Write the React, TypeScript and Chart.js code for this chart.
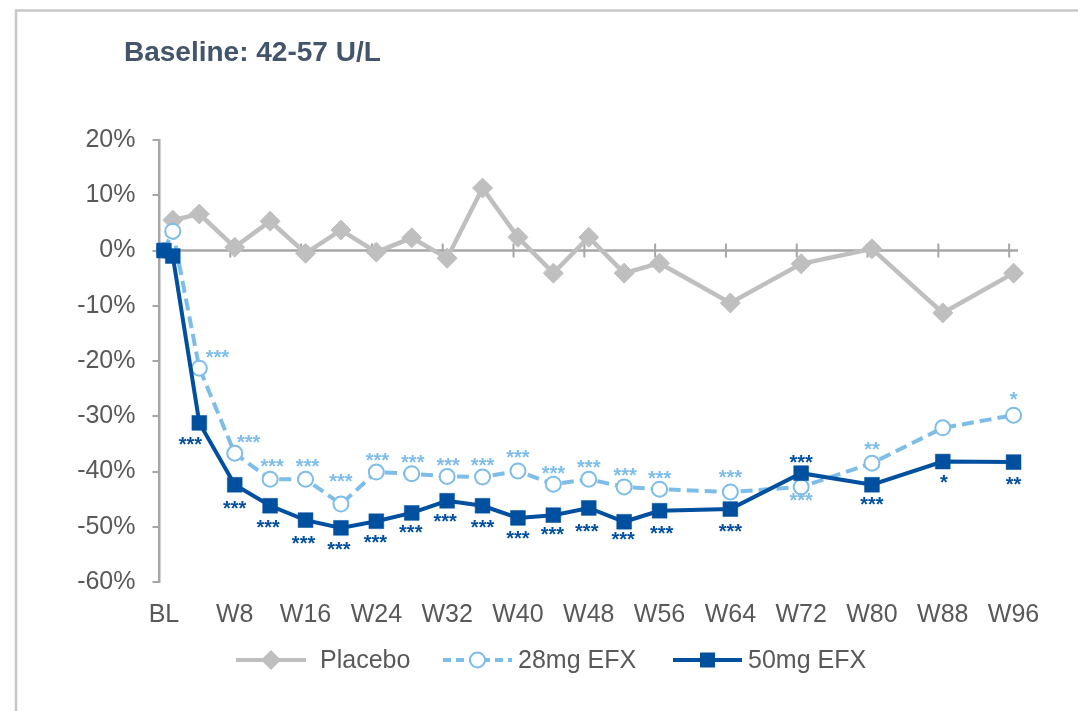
import React, { useEffect, useRef } from 'react';
import { Chart, registerables } from 'chart.js';

Chart.register(...registerables);

// ---------- data ----------
const weeks = [0, 1, 4, 8, 12, 16, 20, 24, 28, 32, 36, 40, 44, 48, 52, 56, 64, 72, 80, 88, 96];
const tickWeeks = [0, 8, 16, 24, 32, 40, 48, 56, 64, 72, 80, 88, 96];
const tickLabels = ['BL', 'W8', 'W16', 'W24', 'W32', 'W40', 'W48', 'W56', 'W64', 'W72', 'W80', 'W88', 'W96'];

const placeboValues = [null, 5.5, 6.6, 0.6, 5.3, -0.5, 3.7, -0.3, 2.3, -1.4, 11.3, 2.4, -4.1, 2.4, -4.1, -2.3, -9.5, -2.4, 0.3, -11.3, -4.1];
const efx28Values = [0, 3.5, -21.3, -36.7, -41.4, -41.4, -45.9, -40.1, -40.4, -40.9, -41.0, -39.9, -42.3, -41.4, -42.8, -43.2, -43.7, -42.8, -38.5, -32.1, -29.8];
const efx50Values = [0, -1.0, -31.2, -42.4, -46.2, -48.8, -50.2, -49.0, -47.5, -45.3, -46.2, -48.4, -47.9, -46.6, -49.1, -47.1, -46.8, -40.3, -42.4, -38.2, -38.3];

const sig28 = ['', '', '***', '***', '***', '***', '***', '***', '***', '***', '***', '***', '***', '***', '***', '***', '***', '***', '**', '', '*'];
const sig50 = ['', '', '***', '***', '***', '***', '***', '***', '***', '***', '***', '***', '***', '***', '***', '***', '***', '***', '***', '*', '**'];
// annotation placement relative to the marker (label centre offset)
const sig28Dx = [0, 0, 18, 14, 2, 2, 0, 1, 1, 1, 0, 0, 0, 0, 1, 0, 0, 0, 0, 0, 0];
const sig28Dy = [0, 0, -16, -16, -18, -18, -28, -17, -17, -16, -17, -19, -16, -17, -17, -16, -20, 8, -19, 0, -21];
const sig50Dx = [0, 0, -9, 0, -2, -2, -2, -1, -1, -2, 0, 0, -1, -2, -1, 2, 0, 0, 0, 1, 0];
const sig50Dy = [0, 0, 16, 18, 16, 18, 16, 16, 14, 15, 16, 15, 14, 18, 12, 17, 17, -16, 14, 15, 17];

const seriesNames = ['Placebo', '28mg EFX', '50mg EFX'];
const titleText = 'Baseline: 42-57 U/L';

// ---------- styles ----------
const FONT = '"Liberation Sans", Arial, sans-serif';
const GRAY = '#bfbfbf';
const LIGHT = '#7fbde9';
const DARK = '#00509f';
const AXIS = '#a6a6a6';
const TEXT = '#595959';
const DASH = [12, 6];

function marker(ctx: CanvasRenderingContext2D, kind: string, x: number, y: number) {
  ctx.save();
  ctx.beginPath();
  if (kind === 'diamond') {
    const r = 10;
    ctx.moveTo(x - r, y); ctx.lineTo(x, y - r); ctx.lineTo(x + r, y); ctx.lineTo(x, y + r); ctx.closePath();
    ctx.fillStyle = GRAY; ctx.fill();
  } else if (kind === 'circle') {
    ctx.arc(x, y, 7.5, 0, Math.PI * 2);
    ctx.fillStyle = '#ffffff'; ctx.fill();
    ctx.lineWidth = 2; ctx.strokeStyle = LIGHT; ctx.stroke();
  } else {
    const s = 7.5;
    ctx.rect(x - s, y - s, 2 * s, 2 * s);
    ctx.fillStyle = DARK; ctx.fill();
  }
  ctx.restore();
}

const overlayPlugin = {
  id: 'overlay',
  beforeDatasetsDraw(chart: any) {
    const { ctx, chartArea } = chart;
    const x = chart.scales.x;
    const y = chart.scales.y;
    const y0 = y.getPixelForValue(0);
    ctx.save();
    ctx.strokeStyle = AXIS;
    ctx.lineWidth = 2.5;
    ctx.beginPath();
    ctx.moveTo(chartArea.left, y0);
    ctx.lineTo(chartArea.right, y0);
    ctx.stroke();
    ctx.lineWidth = 2;
    tickWeeks.forEach((w) => {
      if (w === 0) return;
      const px = x.getPixelForValue(w - 0.5);
      ctx.beginPath();
      ctx.moveTo(px, y0 - 7);
      ctx.lineTo(px, y0 + 7);
      ctx.stroke();
    });
    ctx.restore();
  },
  afterDatasetsDraw(chart: any) {
    const { ctx } = chart;
    const m28 = chart.getDatasetMeta(1);
    const m50 = chart.getDatasetMeta(2);
    ctx.save();
    ctx.font = 'bold 20px ' + FONT;
    ctx.textAlign = 'center';
    ctx.textBaseline = 'alphabetic';
    sig28.forEach((s, i) => {
      if (!s) return;
      const p = m28.data[i];
      ctx.fillStyle = LIGHT;
      ctx.fillText(s, p.x + sig28Dx[i], p.y + sig28Dy[i] + 12);
    });
    sig50.forEach((s, i) => {
      if (!s) return;
      const p = m50.data[i];
      ctx.fillStyle = DARK;
      ctx.fillText(s, p.x + sig50Dx[i], p.y + sig50Dy[i] + 12);
    });
    ctx.restore();
  },
  afterDraw(chart: any) {
    const { ctx } = chart;
    ctx.save();
    // frame
    ctx.strokeStyle = '#c8c8c8';
    ctx.lineWidth = 2.5;
    ctx.beginPath();
    ctx.moveTo(16, 711);
    ctx.lineTo(16, 10.5);
    ctx.lineTo(1078, 10.5);
    ctx.stroke();
    // title
    ctx.fillStyle = '#44546a';
    ctx.font = 'bold 28px ' + FONT;
    ctx.textAlign = 'left';
    ctx.textBaseline = 'alphabetic';
    ctx.fillText(titleText, 124, 61);
    // legend
    const ly = 660;
    const items = [
      { x0: 236, x1: 306, kind: 'diamond', color: GRAY, dash: [] as number[], tx: 320 },
      { x0: 443, x1: 512, kind: 'circle', color: LIGHT, dash: [8, 5], tx: 518 },
      { x0: 673, x1: 742, kind: 'square', color: DARK, dash: [] as number[], tx: 748 },
    ];
    items.forEach((it, i) => {
      ctx.save();
      ctx.strokeStyle = it.color;
      ctx.lineWidth = 4;
      ctx.setLineDash(it.dash);
      ctx.beginPath();
      ctx.moveTo(it.x0, ly);
      ctx.lineTo(it.x1, ly);
      ctx.stroke();
      ctx.restore();
      marker(ctx, it.kind, (it.x0 + it.x1) / 2, ly);
      ctx.fillStyle = TEXT;
      ctx.font = '25px ' + FONT;
      ctx.textBaseline = 'middle';
      ctx.fillText(seriesNames[i], it.tx, ly + 1);
    });
    ctx.restore();
  },
};

export default function App() {
  const canvasRef = useRef<HTMLCanvasElement | null>(null);

  useEffect(() => {
    if (!canvasRef.current) return;
    const toPoints = (vals: (number | null)[]) => weeks.map((w, i) => ({ x: w, y: vals[i] }));
    const chart = new Chart(canvasRef.current, {
      type: 'line',
      data: {
        datasets: [
          {
            label: seriesNames[0],
            data: toPoints(placeboValues) as any,
            borderColor: GRAY,
            backgroundColor: GRAY,
            borderWidth: 4.5,
            pointStyle: 'rectRot',
            pointRadius: 10,
            pointBorderWidth: 1,
            pointBackgroundColor: GRAY,
            pointBorderColor: GRAY,
            order: 3,
            clip: false as any,
          },
          {
            label: seriesNames[1],
            data: toPoints(efx28Values) as any,
            borderColor: LIGHT,
            backgroundColor: '#ffffff',
            borderWidth: 4,
            borderDash: DASH,
            pointStyle: 'circle',
            pointRadius: 7.5,
            pointBorderWidth: 2,
            pointBackgroundColor: '#ffffff',
            pointBorderColor: LIGHT,
            order: 2,
            clip: false as any,
          },
          {
            label: seriesNames[2],
            data: toPoints(efx50Values) as any,
            borderColor: DARK,
            backgroundColor: DARK,
            borderWidth: 4,
            pointStyle: 'rect',
            pointRadius: 10.5,
            pointBorderWidth: 0.5,
            pointBackgroundColor: DARK,
            pointBorderColor: DARK,
            order: 1,
            clip: false as any,
          },
        ],
      },
      options: {
        animation: false,
        responsive: false,
        devicePixelRatio: 1,
        layout: { padding: { left: 0, top: 140, right: 60, bottom: 0 } },
        plugins: {
          legend: { display: false },
          tooltip: { enabled: false },
          title: { display: false },
        },
        scales: {
          x: {
            type: 'linear',
            min: -0.5,
            max: 96.5,
            grid: { display: false, drawTicks: false },
            border: { display: false },
            afterBuildTicks: (scale: any) => {
              scale.ticks = tickWeeks.map((v) => ({ value: v }));
            },
            afterFit: (scale: any) => {
              scale.height = 129;
            },
            ticks: {
              autoSkip: false,
              maxRotation: 0,
              padding: 18,
              color: TEXT,
              font: { family: FONT, size: 25 },
              callback: (v: any) => {
                const idx = tickWeeks.indexOf(Number(v));
                return idx >= 0 ? tickLabels[idx] : '';
              },
            },
          },
          y: {
            min: -60,
            max: 20,
            grid: { display: true, drawOnChartArea: false, drawTicks: true, tickLength: 7, color: AXIS, lineWidth: 2 },
            border: { display: true, color: AXIS, width: 2.5 },
            afterFit: (scale: any) => {
              scale.width = 159.5;
            },
            ticks: {
              stepSize: 10,
              padding: 17,
              color: TEXT,
              font: { family: FONT, size: 25 },
              callback: (v: any) => `${v}%`,
            },
          },
        },
      },
      plugins: [overlayPlugin],
    });
    return () => chart.destroy();
  }, []);

  return (
    <div style={{ position: 'fixed', left: 0, top: 0, width: 1078, height: 711, background: '#ffffff' }}>
      <canvas ref={canvasRef} width={1078} height={711} style={{ display: 'block', width: 1078, height: 711 }} />
    </div>
  );
}
